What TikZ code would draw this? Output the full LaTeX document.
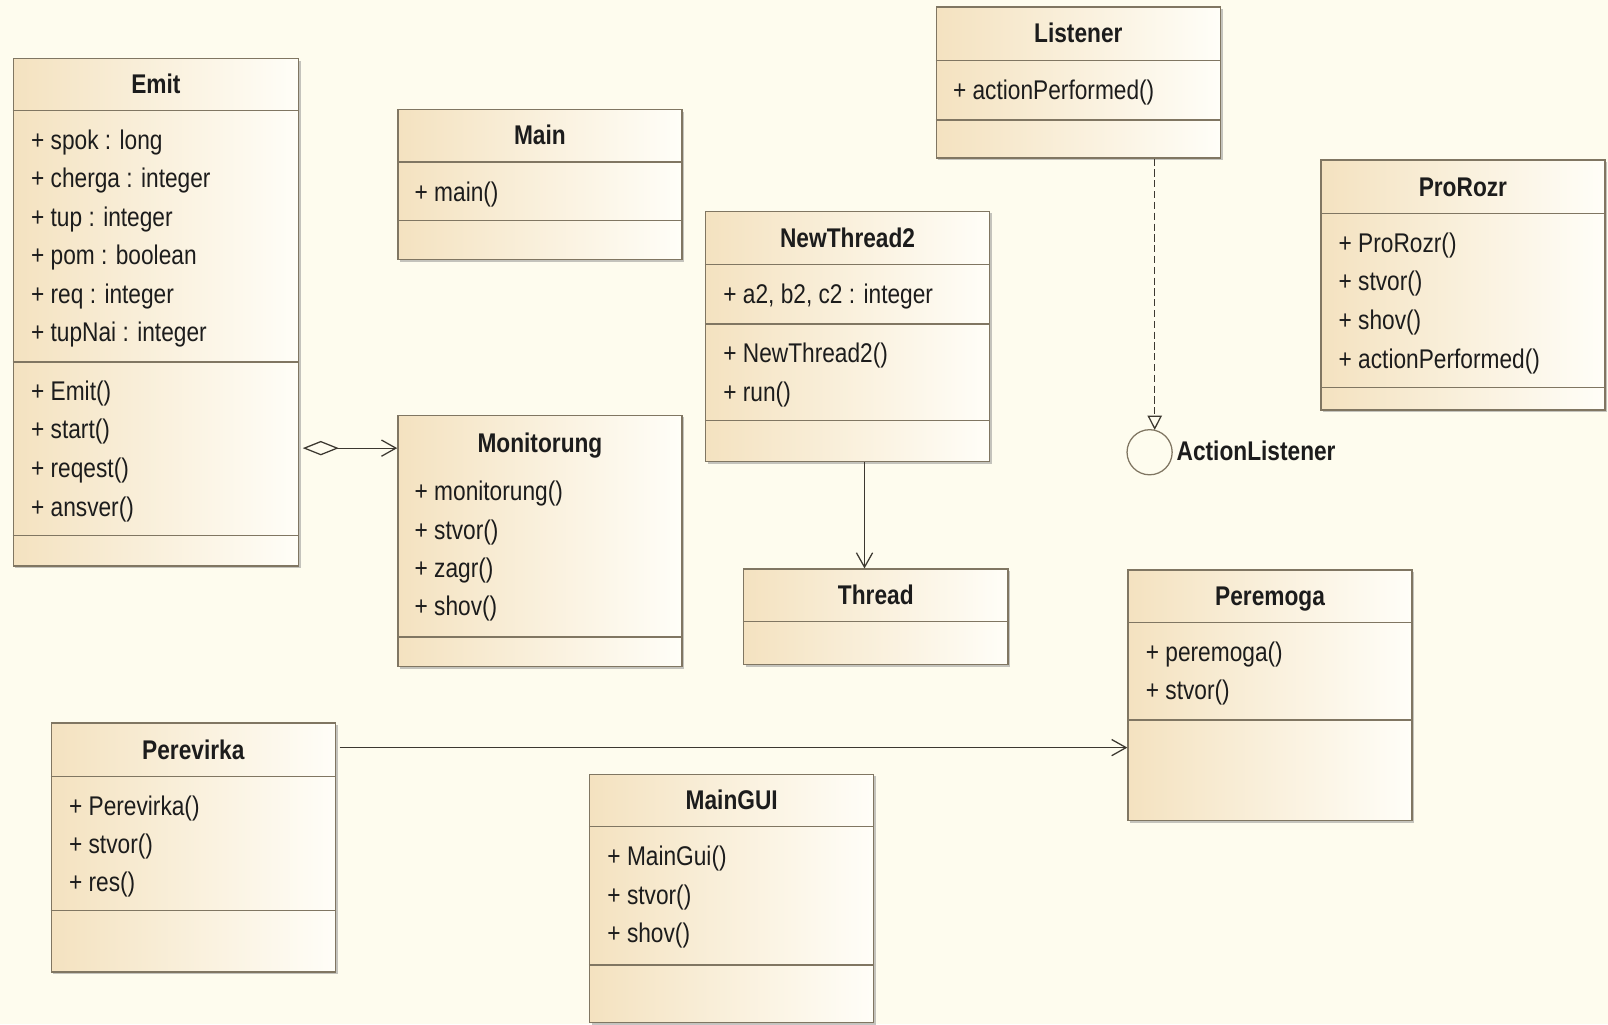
\documentclass[tikz,border=0pt]{standalone}
\usepackage{fontspec}
\setmainfont{Liberation Sans}[FakeStretch=0.84]
\usetikzlibrary{arrows.meta,shadows,fit,calc}
\definecolor{bgc}{RGB}{254,252,238}
\definecolor{tanL}{RGB}{244,226,192}
\definecolor{tanR}{RGB}{255,254,248}
\definecolor{bord}{RGB}{128,118,98}
\definecolor{txt}{RGB}{28,28,28}
\definecolor{conn}{RGB}{60,56,48}
\tikzset{
  cls/.style={draw=bord, line width=0.8pt, left color=tanL, right color=tanR,
    inner sep=0pt, drop shadow={shadow xshift=1.2pt, shadow yshift=-1.2pt, fill=black!45, opacity=0.5}},
  sepline/.style={draw=bord, line width=0.8pt},
  attr/.style={anchor=west, inner sep=0pt, text=txt, text height=12.5pt, text depth=2pt,
    font=\fontsize{15}{17}\selectfont},
  ttl/.style={anchor=center, inner sep=0pt, text=txt, text height=12.5pt, text depth=2pt,
    font=\fontsize{15}{17}\selectfont\bfseries},
  conline/.style={draw=conn, line width=0.7pt},
  openv/.tip={Straight Barb[length=8pt, width=9pt, line width=0.7pt]},
}
\begin{document}
\begin{tikzpicture}[x=0.02cm, y=-0.02cm]
\fill[bgc] (0,0) rectangle (1568,999);
\useasboundingbox (0,0) rectangle (1568,999);

% ---------- Emit ----------
\node[cls, fit={(13,57) (291,552)}] (emit) {};
\draw[sepline] (emit.west |- 0,108) -- (emit.east |- 0,108);
\draw[sepline] (emit.west |- 0,353) -- (emit.east |- 0,353);
\draw[sepline] (emit.west |- 0,522) -- (emit.east |- 0,522);
\node[ttl] (emitT) at (152,82) {Emit};
\node[attr] (e1) at (30,137) {+ spok : long};
\node[attr] (e2) at (30,174) {+ cherga : integer};
\node[attr] (e3) at (30,212) {+ tup : integer};
\node[attr] (e4) at (30,249) {+ pom : boolean};
\node[attr] (e5) at (30,287) {+ req : integer};
\node[attr] (e6) at (30,324) {+ tupNai : integer};
\node[attr] (e7) at (30,381) {+ Emit()};
\node[attr] (e8) at (30,418) {+ start()};
\node[attr] (e9) at (30,456) {+ reqest()};
\node[attr] (e10) at (30,494) {+ ansver()};

% ---------- Main ----------
\node[cls, fit={(388,107) (665,253)}] (main) {};
\draw[sepline] (main.west |- 0,158) -- (main.east |- 0,158);
\draw[sepline] (main.west |- 0,215) -- (main.east |- 0,215);
\node[ttl] (mainT) at (526.5,132) {Main};
\node[attr] (m1) at (404,187) {+ main()};

% ---------- Monitorung ----------
\node[cls, fit={(388,405) (665,650)}] (mon) {};
\draw[sepline] (mon.west |- 0,621) -- (mon.east |- 0,621);
\node[ttl] (monT) at (526.5,432) {Monitorung};
\node[attr] (mo1) at (404,479) {+ monitorung()};
\node[attr] (mo2) at (404,517) {+ stvor()};
\node[attr] (mo3) at (404,554) {+ zagr()};
\node[attr] (mo4) at (404,591) {+ shov()};

% ---------- NewThread2 ----------
\node[cls, fit={(688,206) (965,450)}] (nt) {};
\draw[sepline] (nt.west |- 0,258) -- (nt.east |- 0,258);
\draw[sepline] (nt.west |- 0,316) -- (nt.east |- 0,316);
\draw[sepline] (nt.west |- 0,410) -- (nt.east |- 0,410);
\node[ttl] (ntT) at (826.5,232) {NewThread2};
\node[attr] (n1) at (705,287) {+ a2, b2, c2 : integer};
\node[attr] (n2) at (705,344) {+ NewThread2()};
\node[attr] (n3) at (705,382) {+ run()};

% ---------- Thread ----------
\node[cls, fit={(725,555) (983,648)}] (thr) {};
\draw[sepline] (thr.west |- 0,606) -- (thr.east |- 0,606);
\node[ttl] (thrT) at (854,580) {Thread};

% ---------- Listener ----------
\node[cls, fit={(913,7) (1190,154)}] (lis) {};
\draw[sepline] (lis.west |- 0,59) -- (lis.east |- 0,59);
\draw[sepline] (lis.west |- 0,117) -- (lis.east |- 0,117);
\node[ttl] (lisT) at (1051.5,32) {Listener};
\node[attr] (l1) at (929,88) {+ actionPerformed()};

% ---------- ProRozr ----------
\node[cls, fit={(1288,156) (1565,400)}] (pro) {};
\draw[sepline] (pro.west |- 0,208) -- (pro.east |- 0,208);
\draw[sepline] (pro.west |- 0,378) -- (pro.east |- 0,378);
\node[ttl] (proT) at (1426.5,182) {ProRozr};
\node[attr] (p1) at (1305,237) {+ ProRozr()};
\node[attr] (p2) at (1305,274) {+ stvor()};
\node[attr] (p3) at (1305,312) {+ shov()};
\node[attr] (p4) at (1305,350) {+ actionPerformed()};

% ---------- Peremoga ----------
\node[cls, fit={(1100,556) (1377,800)}] (per) {};
\draw[sepline] (per.west |- 0,607) -- (per.east |- 0,607);
\draw[sepline] (per.west |- 0,702) -- (per.east |- 0,702);
\node[ttl] (perT) at (1238.5,581) {Peremoga};
\node[attr] (pm1) at (1117,636) {+ peremoga()};
\node[attr] (pm2) at (1117,673) {+ stvor()};

% ---------- Perevirka ----------
\node[cls, fit={(50,705) (327,948)}] (pv) {};
\draw[sepline] (pv.west |- 0,757) -- (pv.east |- 0,757);
\draw[sepline] (pv.west |- 0,888) -- (pv.east |- 0,888);
\node[ttl] (pvT) at (188.5,731) {Perevirka};
\node[attr] (v1) at (67,786) {+ Perevirka()};
\node[attr] (v2) at (67,823) {+ stvor()};
\node[attr] (v3) at (67,860) {+ res()};

% ---------- MainGUI ----------
\node[cls, fit={(575,755) (852,997)}] (gui) {};
\draw[sepline] (gui.west |- 0,806) -- (gui.east |- 0,806);
\draw[sepline] (gui.west |- 0,941) -- (gui.east |- 0,941);
\node[ttl] (guiT) at (713.5,780) {MainGUI};
\node[attr] (g1) at (592,835) {+ MainGui()};
\node[attr] (g2) at (592,873) {+ stvor()};
\node[attr] (g3) at (592,910) {+ shov()};

% ---------- ActionListener interface ----------
\node[circle, draw=bord, line width=0.7pt, minimum size=0.88cm, inner sep=0pt] (al) at (1121,441) {};
\node[ttl, anchor=west] (alT) at (1147,440) {ActionListener};

% ---------- connectors ----------
\coordinate (aggy) at (0,437);
\coordinate (ntx) at (843,0);
\coordinate (pvy) at (0,729);
\coordinate (lx) at (1126,0);

\draw[conline, {Diamond[open, length=20pt, width=8pt, line width=0.7pt]}-openv]
  ([xshift=2pt]emit.east |- aggy) -- (mon.west |- aggy);
\draw[conline, -openv] (nt.south -| ntx) -- (thr.north -| ntx);
\draw[conline, -openv] ([xshift=2pt]pv.east |- pvy) -- (per.west |- pvy);
\draw[conline, dashed, dash pattern=on 4pt off 2pt,
  -{Triangle[open, length=8pt, width=8pt, line width=0.7pt]}]
  (lis.south -| lx) -- ([yshift=-0.5pt]al.north -| lx);
\end{tikzpicture}
\end{document}
